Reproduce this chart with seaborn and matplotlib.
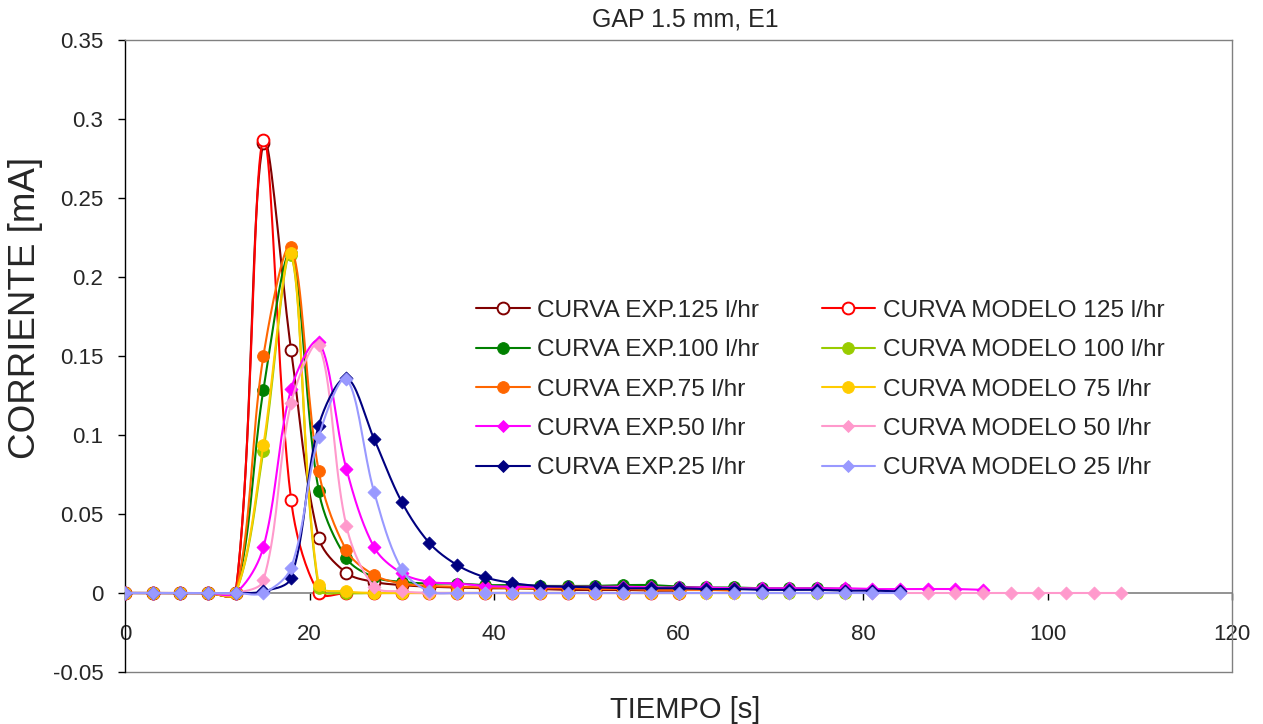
import numpy as np
import pandas as pd
import matplotlib
matplotlib.use("Agg")
import matplotlib.pyplot as plt
import seaborn as sns
from matplotlib.lines import Line2D

# ---------------- data ----------------
tiempo = [0, 3, 6, 9, 12, 15, 18, 21, 24, 27, 30, 33, 36, 39, 42, 45, 48, 51, 54,
          57, 60, 63, 66, 69, 72, 75, 78, 81, 84, 87, 90, 93, 96, 99, 102, 105, 108]

exp_125 = [0, 0, 0, 0, 0, 0.285, 0.154, 0.035, 0.0127, 0.007, 0.005, 0.004, 0.0035,
           0.003, 0.003, 0.0025, 0.002, 0.002, 0.002, 0.0015, 0.0015]
mod_125 = [0, 0, 0, 0, 0, 0.287, 0.059, 0, 0, 0, 0, 0, 0, 0, 0, 0, 0, 0, 0, 0, 0]

exp_100 = [0, 0, 0, 0, 0, 0.1285, 0.215, 0.0646, 0.022, 0.010, 0.007, 0.006, 0.006,
           0.005, 0.005, 0.0045, 0.0045, 0.0045, 0.005, 0.005, 0.004, 0.0035, 0.0035,
           0.003, 0.003, 0.003, 0.0025]
mod_100 = [0, 0, 0, 0, 0, 0.090, 0.214, 0.003, 0, 0, 0, 0, 0, 0, 0, 0, 0, 0, 0, 0,
           0, 0, 0, 0, 0, 0, 0]

exp_75 = [0, 0, 0, 0, 0, 0.150, 0.219, 0.077, 0.027, 0.0114, 0.006, 0.0045, 0.004,
          0.0035, 0.003, 0.003, 0.003, 0.0025, 0.0025, 0.002, 0.002, 0.002, 0.0015]
mod_75 = [0, 0, 0, 0, 0, 0.0937, 0.215, 0.005, 0.001, 0, 0, 0, 0, 0, 0, 0, 0, 0, 0,
          0, 0, 0, 0]

exp_50 = [0, 0, 0, 0, 0, 0.029, 0.129, 0.159, 0.0785, 0.029, 0.0125, 0.007, 0.006,
          0.0045, 0.004, 0.004, 0.004, 0.004, 0.004, 0.0035, 0.0035, 0.0035, 0.003,
          0.003, 0.003, 0.003, 0.003, 0.0025, 0.0025, 0.0025, 0.0025, 0.002]
mod_50 = [0, 0, 0, 0, 0, 0.008, 0.120, 0.157, 0.0424, 0.004, 0.001, 0, 0, 0, 0, 0,
          0, 0, 0, 0, 0, 0, 0, 0, 0, 0, 0, 0, 0, 0, 0, 0, 0, 0, 0, 0, 0]

exp_25 = [0, 0, 0, 0, 0, 0.001, 0.0095, 0.106, 0.136, 0.0975, 0.0576, 0.0316, 0.0177,
          0.010, 0.0063, 0.0044, 0.004, 0.0035, 0.003, 0.003, 0.003, 0.0025, 0.0025,
          0.002, 0.002, 0.002, 0.0015, 0.0015, 0.001]
mod_25 = [0, 0, 0, 0, 0, 0, 0.016, 0.099, 0.1354, 0.064, 0.015, 0.001, 0, 0, 0, 0,
          0, 0, 0, 0, 0, 0, 0, 0, 0, 0, 0, 0, 0]

labels = ["CURVA EXP.125 l/hr", "CURVA MODELO 125 l/hr",
          "CURVA EXP.100 l/hr", "CURVA MODELO 100 l/hr",
          "CURVA EXP.75 l/hr", "CURVA MODELO 75 l/hr",
          "CURVA EXP.50 l/hr", "CURVA MODELO 50 l/hr",
          "CURVA EXP.25 l/hr", "CURVA MODELO 25 l/hr"]
values = [exp_125, mod_125, exp_100, mod_100, exp_75, mod_75,
          exp_50, mod_50, exp_25, mod_25]
colors = ["#800000", "#FF0000", "#008000", "#99CC00", "#FF6600", "#FFCC00",
          "#FF00FF", "#FF99CC", "#000080", "#9999FF"]
markers = ["o", "o", "o", "o", "o", "o", "D", "D", "D", "D"]
hollow = [True, True, False, False, False, False, False, False, False, False]

x_ticks = [0, 20, 40, 60, 80, 100, 120]
y_ticks = [-0.05, 0, 0.05, 0.1, 0.15, 0.2, 0.25, 0.3, 0.35]
y_ticklabels = ["-0.05", "0", "0.05", "0.1", "0.15", "0.2", "0.25", "0.3", "0.35"]

W, H = 1263, 724
AX_L, AX_B, AX_W, AX_H = 125, 52, 1107, 632
XLIM, YLIM = (0, 120), (-0.05, 0.35)


def smooth_curve(x, y, n=20):
    """Excel-style smoothed line: Bezier segments whose control points follow
    the neighbour direction, scaled by chord lengths in screen space."""
    kx = AX_W / (XLIM[1] - XLIM[0])
    ky = AX_H / (YLIM[1] - YLIM[0])
    P = np.column_stack([np.asarray(x, float) * kx, np.asarray(y, float) * ky])
    npt = len(P)
    out = []
    t = np.linspace(0, 1, n, endpoint=False)[:, None]
    for i in range(npt - 1):
        p1, p2 = P[i], P[i + 1]
        p0 = P[i - 1] if i > 0 else p1
        p3 = P[i + 2] if i + 2 < npt else p2
        d01 = np.linalg.norm(p1 - p0)
        d12 = np.linalg.norm(p2 - p1)
        d23 = np.linalg.norm(p3 - p2)
        f1 = d12 / (d01 + d12) if (d01 + d12) > 0 else 0.5
        f2 = d12 / (d12 + d23) if (d12 + d23) > 0 else 0.5
        c1 = p1 + (p2 - p0) * f1 / 3.0
        c2 = p2 - (p3 - p1) * f2 / 3.0
        seg = ((1 - t) ** 3) * p1 + 3 * ((1 - t) ** 2) * t * c1 \
            + 3 * (1 - t) * t ** 2 * c2 + t ** 3 * p2
        out.append(seg)
    out.append(P[-1:])
    S = np.vstack(out)
    return S[:, 0] / kx, S[:, 1] / ky


# ---------------- figure ----------------
sns.set_style("white")
plt.rcParams["font.family"] = ["Liberation Sans", "DejaVu Sans"]

fig = plt.figure(figsize=(W / 100, H / 100), dpi=100)
ax = fig.add_axes([AX_L / W, AX_B / H, AX_W / W, AX_H / H])

LW = 1.5
for k, (lab, vals, c, m, hol) in enumerate(zip(labels, values, colors, markers, hollow)):
    xs = tiempo[:len(vals)]
    sx, sy = smooth_curve(xs, vals)
    sns.lineplot(x=sx, y=sy, sort=False, estimator=None, color=c, lw=LW,
                 ax=ax, zorder=3 + 2 * k, legend=False)
    ms = 8.5 if m == "o" else 6.6
    fc = "white" if hol else c
    sns.scatterplot(x=xs, y=vals, marker=m, s=ms**2, facecolor=fc, edgecolor=c,
                    linewidth=1.4 if hol else 0.6, ax=ax, zorder=4 + 2 * k, legend=False)

ax.set_xlim(*XLIM)
ax.set_ylim(*YLIM)
ax.set_xticks(x_ticks)
ax.set_xticklabels([str(v) for v in x_ticks])
ax.set_yticks(y_ticks)
ax.set_yticklabels(y_ticklabels)

# Excel-like frame and axes
for side in ["top", "right"]:
    ax.spines[side].set_color("#808080")
    ax.spines[side].set_linewidth(1.0)
ax.spines["left"].set_color("black")
ax.spines["left"].set_linewidth(1.0)
ax.spines["bottom"].set_position(("data", 0))
ax.spines["bottom"].set_color("#808080")
ax.spines["bottom"].set_linewidth(1.2)
ax.spines["bottom"].set_zorder(2)
ax.axhline(-0.05, color="#808080", lw=1.0, clip_on=False, zorder=1)

ax.tick_params(axis="y", direction="out", length=5, width=1, color="black",
               labelsize=16, pad=10.5, left=True)
ax.tick_params(axis="x", direction="out", length=5, width=1, color="black",
               labelsize=16, pad=17, bottom=True)
ax.grid(False)

ax.set_xlabel("TIEMPO [s]", fontsize=21)
ax.xaxis.set_label_coords(0.506, -0.038)
ax.set_ylabel("CORRIENTE [mA]", fontsize=26.5)
ax.yaxis.set_label_coords(-0.074, 0.576)

fig.text(685 / W, 1 - 20 / H, "GAP 1.5 mm, E1", ha="center", va="center", fontsize=18)

# legend: experimental curves in the first column, models in the second
order = [0, 2, 4, 6, 8, 1, 3, 5, 7, 9]
handles = []
for i in order:
    m = markers[i]
    handles.append(Line2D([0], [0], color=colors[i], lw=LW, marker=m,
                          ms=8.5 if m == "o" else 6.6,
                          mfc="white" if hollow[i] else colors[i], mec=colors[i],
                          mew=1.4 if hollow[i] else 0.6))
leg = ax.legend(handles, [labels[i] for i in order], ncol=2, frameon=False,
                fontsize=17.6, loc="center", bbox_to_anchor=(0.628, 0.447),
                handlelength=2.2, handletextpad=0.3, columnspacing=2.55,
                labelspacing=0.71, borderpad=0)

fig.savefig("out.png", dpi=100)
